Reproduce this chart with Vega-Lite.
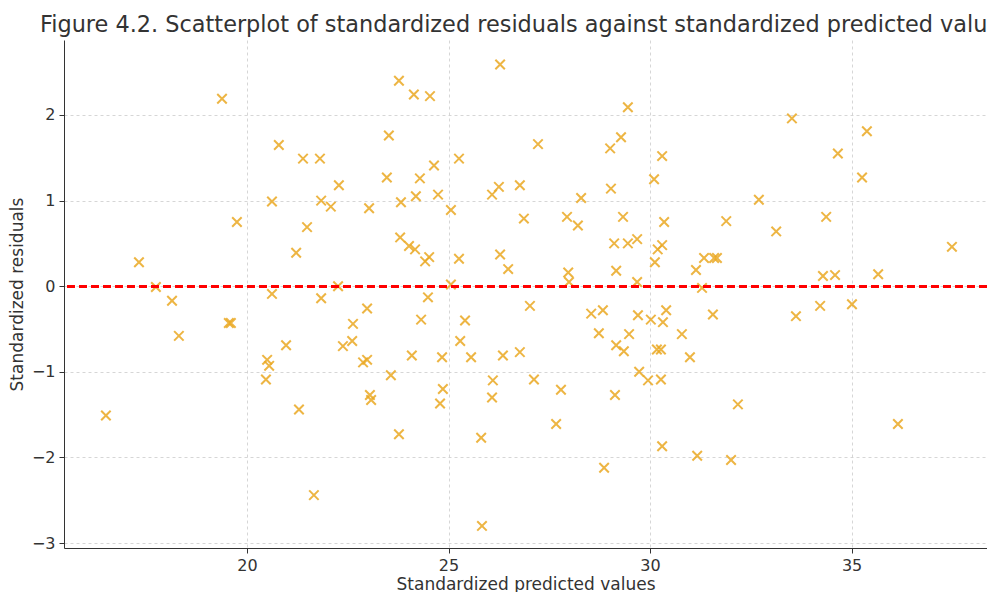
{
  "$schema": "https://vega.github.io/schema/vega-lite/v6.json",
  "autosize": "none",
  "width": 923,
  "height": 508,
  "padding": {"left": 64, "top": 40, "right": 0, "bottom": 44},
  "background": "white",
  "config": {
    "font": "DejaVu Sans",
    "view": {"stroke": null},
    "axis": {
      "labelFont": "DejaVu Sans", "titleFont": "DejaVu Sans",
      "labelFontSize": 16, "titleFontSize": 17, "labelColor": "#333333", "titleColor": "#333333",
      "titleFontWeight": "normal", "domainColor": "#333333", "tickColor": "#333333",
      "tickSize": 5, "gridColor": "#cccccc", "gridDash": [3, 3], "gridWidth": 0.8
    }
  },
  "title": {
    "text": "Figure 4.2. Scatterplot of standardized residuals against standardized predicted values",
    "anchor": "start", "frame": "group", "dx": -24, "fontSize": 22.4, "fontWeight": "normal", "color": "#333333",
    "font": "DejaVu Sans", "offset": 4
  },
  "data": {"values": [
    {"x": 16.5, "y": -1.51}, {"x": 17.32, "y": 0.28}, {"x": 17.74, "y": -0.01}, {"x": 18.14, "y": -0.17},
    {"x": 18.31, "y": -0.58}, {"x": 19.38, "y": 2.19}, {"x": 19.55, "y": -0.43}, {"x": 19.6, "y": -0.43},
    {"x": 19.75, "y": 0.75}, {"x": 20.5, "y": -0.86}, {"x": 20.55, "y": -0.93}, {"x": 20.47, "y": -1.09},
    {"x": 20.62, "y": 0.99}, {"x": 20.62, "y": -0.09}, {"x": 20.79, "y": 1.65}, {"x": 20.97, "y": -0.69},
    {"x": 21.22, "y": 0.39}, {"x": 21.29, "y": -1.44}, {"x": 21.39, "y": 1.49}, {"x": 21.49, "y": 0.69},
    {"x": 21.66, "y": -2.44}, {"x": 21.81, "y": 1.49}, {"x": 21.84, "y": 1.0}, {"x": 21.84, "y": -0.14},
    {"x": 22.08, "y": 0.93}, {"x": 22.28, "y": 1.18}, {"x": 22.26, "y": 0.0}, {"x": 22.38, "y": -0.7},
    {"x": 22.63, "y": -0.44}, {"x": 22.61, "y": -0.64}, {"x": 22.88, "y": -0.89}, {"x": 22.98, "y": -0.86},
    {"x": 22.98, "y": -0.26}, {"x": 23.03, "y": 0.91}, {"x": 23.05, "y": -1.27}, {"x": 23.08, "y": -1.33},
    {"x": 23.52, "y": 1.76}, {"x": 23.47, "y": 1.27}, {"x": 23.57, "y": -1.04}, {"x": 23.77, "y": 2.4},
    {"x": 23.8, "y": 0.57}, {"x": 23.82, "y": 0.98}, {"x": 23.77, "y": -1.73}, {"x": 24.02, "y": 0.47},
    {"x": 24.09, "y": -0.81}, {"x": 24.14, "y": 2.24}, {"x": 24.19, "y": 1.05}, {"x": 24.17, "y": 0.43},
    {"x": 24.29, "y": 1.26}, {"x": 24.32, "y": -0.39}, {"x": 24.42, "y": 0.29}, {"x": 24.49, "y": -0.13},
    {"x": 24.52, "y": 0.34}, {"x": 24.54, "y": 2.22}, {"x": 24.64, "y": 1.41}, {"x": 24.74, "y": 1.07},
    {"x": 24.84, "y": -0.83}, {"x": 24.86, "y": -1.2}, {"x": 24.79, "y": -1.37}, {"x": 25.06, "y": 0.89},
    {"x": 25.06, "y": 0.02}, {"x": 25.26, "y": 1.49}, {"x": 25.26, "y": 0.32}, {"x": 25.29, "y": -0.64},
    {"x": 25.41, "y": -0.4}, {"x": 25.56, "y": -0.83}, {"x": 25.81, "y": -1.77}, {"x": 25.83, "y": -2.8},
    {"x": 26.08, "y": 1.07}, {"x": 26.1, "y": -1.1}, {"x": 26.08, "y": -1.3}, {"x": 26.25, "y": 1.16},
    {"x": 26.28, "y": 2.59}, {"x": 26.28, "y": 0.37}, {"x": 26.35, "y": -0.81}, {"x": 26.48, "y": 0.2},
    {"x": 26.77, "y": 1.18}, {"x": 26.77, "y": -0.77}, {"x": 26.87, "y": 0.79}, {"x": 27.02, "y": -0.23},
    {"x": 27.12, "y": -1.09}, {"x": 27.22, "y": 1.66}, {"x": 27.67, "y": -1.61}, {"x": 27.79, "y": -1.21},
    {"x": 27.94, "y": 0.81}, {"x": 27.97, "y": 0.16}, {"x": 27.99, "y": 0.05}, {"x": 28.21, "y": 0.71},
    {"x": 28.29, "y": 1.03}, {"x": 28.54, "y": -0.32}, {"x": 28.73, "y": -0.55}, {"x": 28.83, "y": -0.28},
    {"x": 28.86, "y": -2.12}, {"x": 29.01, "y": 1.61}, {"x": 29.03, "y": 1.14}, {"x": 29.11, "y": 0.5},
    {"x": 29.16, "y": -0.69}, {"x": 29.13, "y": -1.27}, {"x": 29.16, "y": 0.18}, {"x": 29.28, "y": 1.74},
    {"x": 29.33, "y": 0.81}, {"x": 29.35, "y": -0.76}, {"x": 29.45, "y": 2.09}, {"x": 29.45, "y": 0.5},
    {"x": 29.48, "y": -0.56}, {"x": 29.68, "y": 0.55}, {"x": 29.68, "y": 0.05}, {"x": 29.7, "y": -0.34},
    {"x": 29.73, "y": -1.0}, {"x": 29.95, "y": -1.1}, {"x": 30.02, "y": -0.39}, {"x": 30.1, "y": 1.25},
    {"x": 30.12, "y": 0.28}, {"x": 30.17, "y": -0.74}, {"x": 30.19, "y": 0.43}, {"x": 30.3, "y": 0.48},
    {"x": 30.27, "y": -0.74}, {"x": 30.27, "y": -1.09}, {"x": 30.3, "y": 1.52}, {"x": 30.32, "y": -0.42},
    {"x": 30.3, "y": -1.87}, {"x": 30.35, "y": 0.75}, {"x": 30.4, "y": -0.28}, {"x": 30.79, "y": -0.56},
    {"x": 30.99, "y": -0.83}, {"x": 31.14, "y": 0.19}, {"x": 31.17, "y": -1.98}, {"x": 31.29, "y": -0.02},
    {"x": 31.34, "y": 0.33}, {"x": 31.56, "y": -0.33}, {"x": 31.59, "y": 0.33}, {"x": 31.66, "y": 0.33},
    {"x": 31.89, "y": 0.76}, {"x": 32.01, "y": -2.03}, {"x": 32.18, "y": -1.38}, {"x": 32.7, "y": 1.01},
    {"x": 33.13, "y": 0.64}, {"x": 33.52, "y": 1.96}, {"x": 33.62, "y": -0.35}, {"x": 34.22, "y": -0.23},
    {"x": 34.29, "y": 0.12}, {"x": 34.37, "y": 0.81}, {"x": 34.59, "y": 0.13}, {"x": 34.66, "y": 1.55},
    {"x": 35.01, "y": -0.21}, {"x": 35.26, "y": 1.27}, {"x": 35.38, "y": 1.81}, {"x": 35.66, "y": 0.14},
    {"x": 36.15, "y": -1.61}, {"x": 37.49, "y": 0.46}
  ]},
  "layer": [
    {
      "mark": {"type": "point", "shape": "M-1,-1L1,1M-1,1L1,-1", "filled": false, "stroke": "#EBA923", "strokeWidth": 2, "opacity": 0.85, "size": 90},
      "encoding": {
        "x": {"field": "x", "type": "quantitative", "scale": {"domain": [15.46, 38.36], "nice": false, "zero": false},
              "axis": {"values": [20, 25, 30, 35], "title": "Standardized predicted values", "titlePadding": 3, "labelPadding": 4}},
        "y": {"field": "y", "type": "quantitative", "scale": {"domain": [-3.058, 2.876], "nice": false, "zero": false},
              "axis": {"values": [-3, -2, -1, 0, 1, 2], "format": "d", "title": "Standardized residuals", "titlePadding": 5, "labelPadding": 4}}
      }
    },
    {
      "mark": {"type": "rule", "color": "red", "strokeWidth": 2, "strokeDash": [8, 4]},
      "encoding": {"y": {"datum": 0}}
    }
  ]
}
